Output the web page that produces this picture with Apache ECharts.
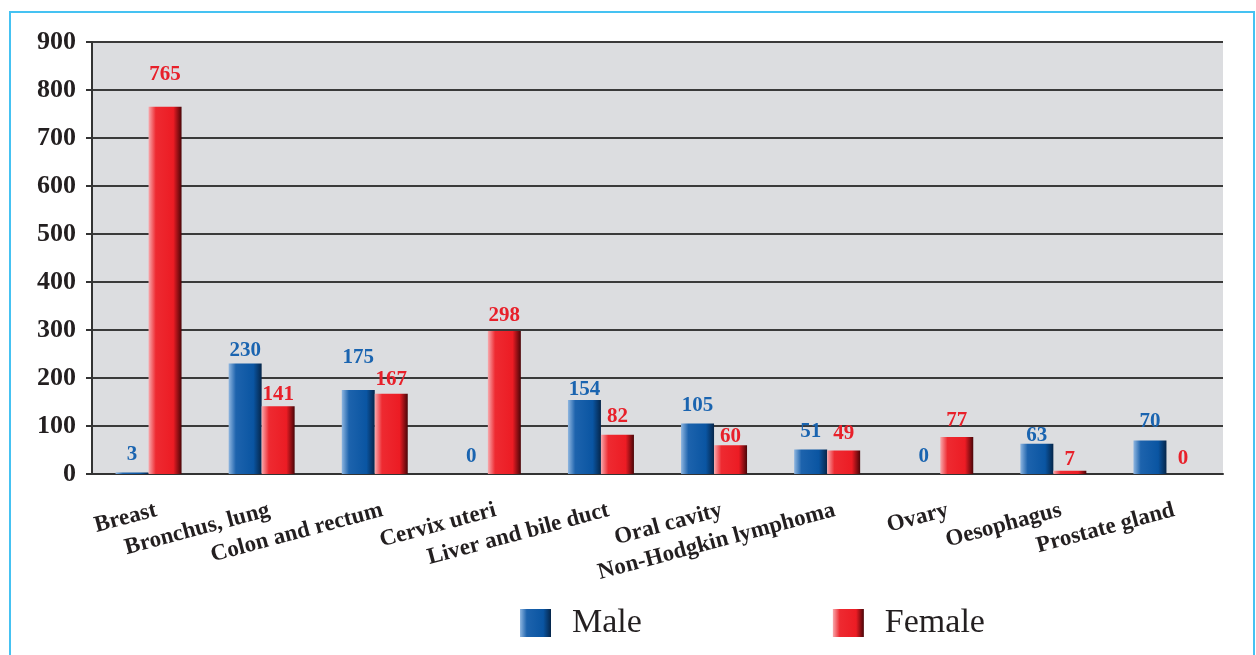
<!DOCTYPE html>
<html>
<head>
<meta charset="utf-8">
<script src="https://cdn.jsdelivr.net/npm/echarts@6/dist/echarts.min.js"></script>
<style>html,body{margin:0;padding:0;background:#fff;}#c{width:1256px;height:655px;}</style>
</head>
<body>
<div id="c"></div>
<script>
const categories = ['Breast','Bronchus, lung','Colon and rectum','Cervix uteri','Liver and bile duct','Oral cavity','Non-Hodgkin lymphoma','Ovary','Oesophagus','Prostate gland'];
const maleValues = [3,230,175,0,154,105,51,0,63,70];
const femaleValues = [765,141,167,298,82,60,49,77,7,0];
const yTicks = [0,100,200,300,400,500,600,700,800,900];

// label lift above bar top (px, style only)
const maleLabelLift = [19,15,34,19,12,20,19,19,10,20];
const femaleLabelLift = [34,13,16,17,20,10,18,18,13,17];

const FONT = '"Liberation Serif","Times New Roman",serif';
const maleGrad = new echarts.graphic.LinearGradient(0,0,1,0,[
  {offset:0,color:'#8fb6e0'},{offset:0.22,color:'#1d63ad'},{offset:0.75,color:'#0a55a2'},{offset:1,color:'#06264a'}]);
const femaleGrad = new echarts.graphic.LinearGradient(0,0,1,0,[
  {offset:0,color:'#f8a9ad'},{offset:0.22,color:'#ee2a31'},{offset:0.75,color:'#ec1c24'},{offset:1,color:'#4a0508'}]);

function items(vals, lifts){
  return vals.map((v,i)=>({value:v,label:{distance:lifts[i]-12}}));
}

const chart = echarts.init(document.getElementById('c'), null, {renderer:'canvas'});
chart.setOption({
  backgroundColor:'#ffffff',
  animation:false,
  graphic:[{type:'rect',shape:{x:10,y:12,width:1244,height:700},style:{fill:'none',stroke:'#45c2f2',lineWidth:2},z:-1}],
  legend:{
    left:520, top:606, padding:0, itemWidth:31, itemHeight:28, itemGap:191,
    icon:'rect',
    textStyle:{fontFamily:FONT,fontSize:34,color:'#231f20',padding:[0,0,0,16]},
    data:['Male','Female']
  },
  grid:{left:92,right:33,top:42,bottom:181,show:true,backgroundColor:'#dcdde0',borderWidth:0},
  xAxis:{
    type:'category', data:categories,
    axisLine:{lineStyle:{color:'#333',width:2}},
    axisTick:{show:false},
    axisLabel:{interval:0,rotate:15,margin:38,padding:[0,-8,0,0],fontFamily:FONT,fontSize:23,fontWeight:'bold',color:'#231f20'}
  },
  yAxis:{
    type:'value', min:0, max:900, interval:100,
    axisLine:{show:true,lineStyle:{color:'#333',width:2}},
    axisTick:{show:true,length:6,lineStyle:{color:'#333',width:2}},
    splitLine:{lineStyle:{color:'#3a3a3a',width:2}},
    axisLabel:{margin:16,fontFamily:FONT,fontSize:26,fontWeight:'bold',color:'#231f20',
      formatter:v=>yTicks.includes(v)?String(v):''}
  },
  series:[
    {name:'Male',type:'bar',data:items(maleValues,maleLabelLift),barWidth:33,barGap:'0%',
     itemStyle:{color:maleGrad},
     label:{show:true,position:'top',fontFamily:FONT,fontSize:21,fontWeight:'bold',color:'#1a64b0'}},
    {name:'Female',type:'bar',data:items(femaleValues,femaleLabelLift),barWidth:33,barGap:'0%',
     itemStyle:{color:femaleGrad},
     label:{show:true,position:'top',fontFamily:FONT,fontSize:21,fontWeight:'bold',color:'#e8202a'}}
  ]
});
</script>
</body>
</html>
